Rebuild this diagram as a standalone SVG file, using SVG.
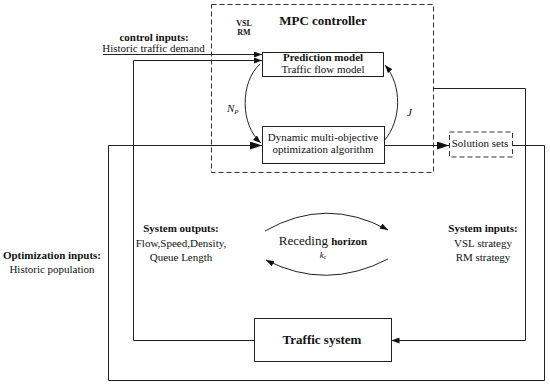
<svg xmlns="http://www.w3.org/2000/svg" width="550" height="385" viewBox="0 0 550 385">
<style>
text{font-family:"Liberation Serif","Times New Roman",serif;fill:#111;}
.r{font-size:11px;}
.b{font-size:11px;font-weight:bold;}
.c{text-anchor:middle;}
.box{fill:#fff;stroke:#222;stroke-width:1;}
.dash{fill:none;stroke:#333;stroke-width:1;stroke-dasharray:5,3;}
.ln{fill:none;stroke:#222;stroke-width:1;}
</style>
<defs>
<marker id="ah" markerUnits="userSpaceOnUse" markerWidth="8" markerHeight="6" refX="8" refY="3" orient="auto"><path d="M0,0 L8,3 L0,6 z" fill="#111"/></marker>
<marker id="ahb" markerUnits="userSpaceOnUse" markerWidth="12" markerHeight="8" refX="12" refY="4" orient="auto"><path d="M0,0 L12,4 L0,8 z" fill="#111"/></marker>
</defs>

<g id="mpc">
<rect class="dash" x="211.5" y="4.5" width="222" height="168"/>
<text class="c" x="323" y="25" style="font-size:13px;font-weight:bold">MPC controller</text>
<text class="c" x="244" y="26" style="font-size:8px;font-weight:bold">VSL</text>
<text class="c" x="244" y="35" style="font-size:8px;font-weight:bold">RM</text>
</g>

<g id="prediction">
<rect class="box" x="262.5" y="52.5" width="121" height="24"/>
<text class="b c" x="323" y="61">Prediction model</text>
<text class="r c" x="323" y="73">Traffic flow model</text>
</g>

<g id="dynamic">
<rect class="box" x="262.5" y="126.5" width="122" height="37"/>
<text class="r c" x="323" y="141">Dynamic multi-objective</text>
<text class="r c" x="323" y="152.5">optimization algorithm</text>
</g>

<g id="solution">
<rect class="dash" x="449.5" y="132" width="63" height="25"/>
<text class="r c" x="480" y="147">Solution sets</text>
</g>

<g id="traffic">
<rect class="box" x="254.5" y="318.5" width="137" height="43"/>
<text class="c" x="322" y="344" style="font-size:13px;font-weight:bold">Traffic system</text>
</g>

<g id="labels">
<text class="b c" x="154" y="41">control inputs:</text>
<text class="r c" x="153.5" y="52">Historic traffic demand</text>
<text class="b c" x="52" y="259">Optimization inputs:</text>
<text class="r c" x="52" y="273">Historic population</text>
<text class="b c" x="181" y="232">System outputs:</text>
<text class="r c" x="181" y="247">Flow,Speed,Density,</text>
<text class="r c" x="181" y="261">Queue Length</text>
<text class="b c" x="483" y="232">System inputs:</text>
<text class="r c" x="483" y="247">VSL strategy</text>
<text class="r c" x="483" y="261">RM strategy</text>
<text class="c" x="323" y="245"><tspan style="font-size:13px">Receding </tspan><tspan style="font-size:11px;font-weight:bold">horizon</tspan></text>
<text class="c" x="323" y="258" style="font-size:9px;font-style:italic">k<tspan style="font-size:6px" dy="1">c</tspan></text>
<text x="227" y="112" style="font-size:11px;font-style:italic">N<tspan style="font-size:7px" dy="2">P</tspan></text>
<text x="407" y="116" style="font-size:11px;font-style:italic">J</text>
</g>

<g id="connectors">
<path class="ln" d="M103,54.5 H262" marker-end="url(#ah)"/>
<path class="ln" d="M254,340.5 H133.5 V60.5 H262" marker-end="url(#ah)"/>
<path class="ln" d="M512,145.5 H544.5 V380.5 H108.5 V145.5 H262" marker-end="url(#ahb)"/>
<path class="ln" d="M433.5,88.5 H525.5 V340.5 H391.5" marker-end="url(#ah)"/>
<path class="ln" d="M384.5,145.5 H449" marker-end="url(#ahb)"/>
<path class="ln" d="M260,64 C240,82 240,125 261,143" marker-end="url(#ah)"/>
<path class="ln" d="M384,141 C402,120 402,85 385,65" marker-end="url(#ah)"/>
<path class="ln" d="M265,231 Q326,196 388,230" marker-end="url(#ah)"/>
<path class="ln" d="M388,259 Q326,291 266,260" marker-end="url(#ah)"/>
</g>
</svg>
